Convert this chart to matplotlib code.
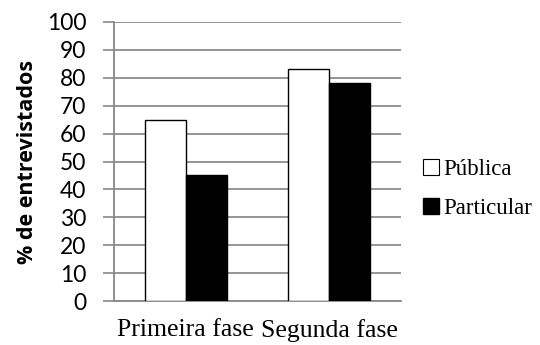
import numpy as np
import matplotlib.pyplot as plt
from matplotlib.patches import Patch

fases = ["Primeira fase", "Segunda fase"]
publica = [65, 83]
particular = [45, 78]
series_names = ["Pública", "Particular"]

fig = plt.figure(figsize=(5.4, 3.45), dpi=100)
ax = fig.add_axes([114 / 540, 44 / 345, 287 / 540, 279 / 345])

x = np.arange(len(fases))
w = 0.286
ax.bar(x - w / 2, publica, w, color="white", edgecolor="black", linewidth=1, zorder=3)
ax.bar(x + w / 2, particular, w, color="black", edgecolor="black", linewidth=1, zorder=3)

ax.set_xlim(-0.5, 1.5)
ax.set_ylim(0, 100)
ax.set_yticks(np.arange(0, 101, 10))
ax.set_xticks(x)
ax.set_xticklabels(fases, family="Liberation Serif", fontsize=18.5)
ax.tick_params(axis="x", length=0, pad=13)
ax.tick_params(axis="y", length=8, width=1.2, color="#888888", labelsize=16.5, pad=12)
for lab in ax.get_yticklabels():
    lab.set_family("Lato")

ax.yaxis.grid(True, color="#8c8c8c", linewidth=1.3, zorder=0)
for s in ["top", "right"]:
    ax.spines[s].set_visible(False)
for s in ["left", "bottom"]:
    ax.spines[s].set_color("#888888")
    ax.spines[s].set_linewidth(1.3)

ax.set_ylabel("% de entrevistados", family="Open Sans", fontweight="bold",
              fontsize=15.5, labelpad=6)

handles = [Patch(facecolor="white", edgecolor="black", linewidth=0.8),
           Patch(facecolor="black", edgecolor="black")]
fig.legend(handles, series_names, loc="center left", bbox_to_anchor=(402 / 540, 1 - 189 / 345),
           frameon=False, prop={"family": "Liberation Serif", "size": 16.5},
           handlelength=0.7, handleheight=0.7, handletextpad=0.2, labelspacing=0.8)

fig.savefig("out.png", dpi=100)
